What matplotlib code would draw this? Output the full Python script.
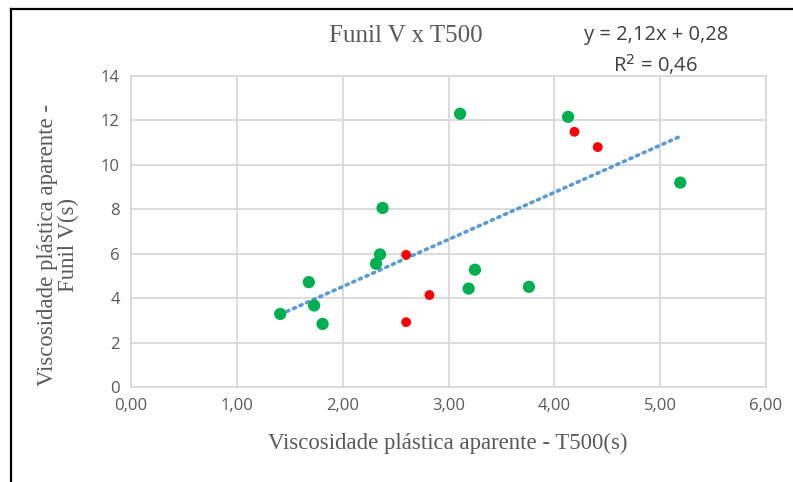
import matplotlib
matplotlib.use("Agg")
import matplotlib.pyplot as plt
from matplotlib.ticker import FuncFormatter

# Data
green_x = [1.41, 1.68, 1.73, 1.81, 2.315, 2.353, 2.377, 3.11, 3.19, 3.25, 3.76, 4.13, 5.19]
green_y = [3.29, 4.72, 3.67, 2.84, 5.55, 5.97, 8.06, 12.30, 4.43, 5.28, 4.51, 12.16, 9.20]
red_x = [2.60, 2.82, 2.60, 4.19, 4.41]
red_y = [5.95, 4.14, 2.92, 11.49, 10.80]
slope = 2.12
intercept = 0.28
r2 = 0.46
title = "Funil V x T500"
xlabel = "Viscosidade plástica aparente - T500(s)"
ylabel = "Viscosidade plástica aparente -\nFunil V(s)"
x_ticks = [0, 1, 2, 3, 4, 5, 6]
y_ticks = [0, 2, 4, 6, 8, 10, 12, 14]

W, H = 793, 482
fig = plt.figure(figsize=(W / 100, H / 100), dpi=100)
ax = fig.add_axes([131 / W, 1 - 387 / H, (766 - 131) / W, (387 - 76) / H])

ax.set_xlim(0, 6)
ax.set_ylim(0, 14)
ax.set_xticks(x_ticks)
ax.set_yticks(y_ticks)
ax.xaxis.set_major_formatter(FuncFormatter(lambda v, p: f"{v:.2f}".replace(".", ",")))
ax.yaxis.set_major_formatter(FuncFormatter(lambda v, p: f"{int(v)}"))
ax.grid(True, color="#d9d9d9", linewidth=1.3)
ax.set_axisbelow(True)
for s in ax.spines.values():
    s.set_color("#d9d9d9")
    s.set_linewidth(1.3)
ax.tick_params(length=0, colors="#595959", labelsize=12, pad=8)
for lab in ax.get_xticklabels() + ax.get_yticklabels():
    lab.set_fontfamily("Open Sans")

# Trendline
xmin, xmax = min(green_x), max(green_x)
ax.plot([xmin, xmax], [slope * xmin + intercept, slope * xmax + intercept],
        linestyle=(0, (0.6, 1.4)), color="#5b9bd5", linewidth=2.6,
        dash_capstyle="round", zorder=2)

ax.scatter(green_x, green_y, s=78, color="#00b050", edgecolors="none", zorder=3)
ax.scatter(red_x, red_y, s=50, color="#ff0000", edgecolors="none", zorder=4)

fig.text(406 / W, 1 - 36 / H, title, ha="center", va="center",
         fontfamily="Liberation Serif", fontsize=18, color="#595959")
fig.text(656 / W, 1 - 35 / H, f"y = {slope:.2f}x + {intercept:.2f}".replace(".", ","),
         ha="center", va="center", fontfamily="Open Sans", fontsize=14.5, color="#404040")
fig.text(655 / W, 1 - 65 / H, f"R$^2$ = {r2:.2f}".replace(".", ","),
         ha="center", va="center", fontfamily="Open Sans", fontsize=14.5, color="#404040")

fig.text(448 / W, 1 - 443 / H, xlabel, ha="center", va="center",
         fontfamily="Liberation Serif", fontsize=16.4, color="#595959")
fig.text(58 / W, 1 - 245 / H, ylabel, ha="center", va="center", rotation=90,
         fontfamily="Liberation Serif", fontsize=16.4, color="#595959", linespacing=1.0)

# Border
fig.add_artist(plt.Line2D([11 / W, 11 / W], [0, 1 - 9 / H], color="black", linewidth=1.6,
                          transform=fig.transFigure))
fig.add_artist(plt.Line2D([11 / W, 1], [1 - 9 / H, 1 - 9 / H], color="black", linewidth=1.6,
                          transform=fig.transFigure))

fig.savefig("out.png", dpi=100)
